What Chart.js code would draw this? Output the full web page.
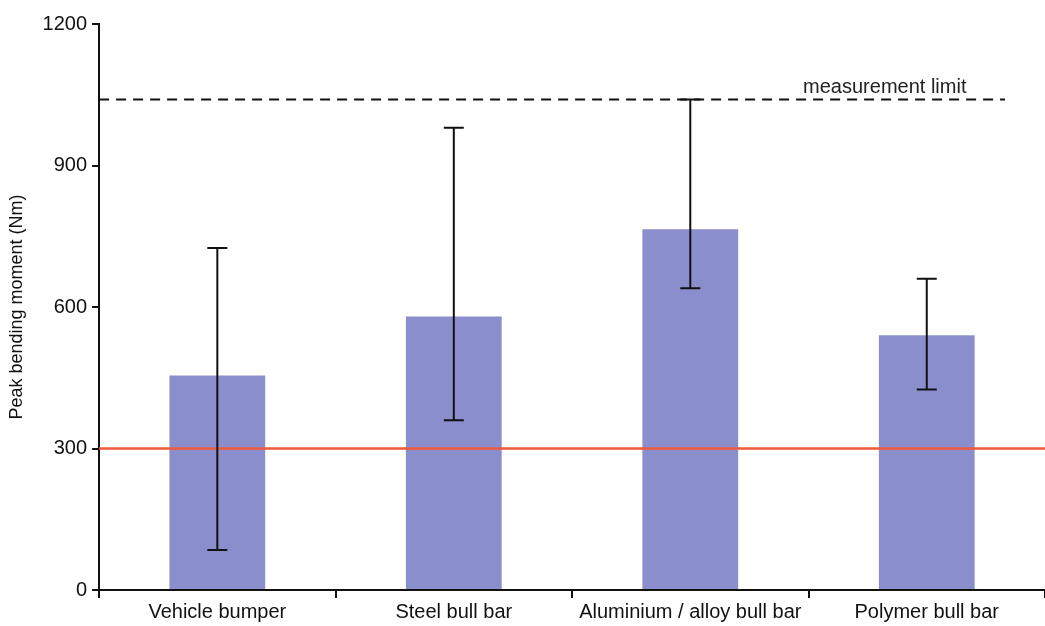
<!DOCTYPE html>
<html>
<head>
<meta charset="utf-8">
<script src="https://cdn.jsdelivr.net/npm/chart.js@4.4.1/dist/chart.umd.min.js"></script>
<style>
html,body{margin:0;padding:0;background:#fff;overflow:hidden;}
#wrap{width:1045px;height:626px;}
</style>
</head>
<body>
<div id="wrap"><canvas id="c" width="1045" height="626"></canvas></div>
<script>
const categories = ["Vehicle bumper", "Steel bull bar", "Aluminium / alloy bull bar", "Polymer bull bar"];
const meanValues = [455, 580, 765, 540];
const upperValues = [725, 980, 1040, 660];
const lowerValues = [85, 360, 640, 425];
const thresholdValue = 300;
const limitValue = 1040;
const limitLabel = "measurement limit";
const yTicks = [0, 300, 600, 900, 1200];
const yTitle = "Peak bending moment (Nm)";

const FONT = "'Liberation Sans', Arial, Helvetica, sans-serif";

const overlay = {
  id: 'overlay',
  afterDatasetsDraw(chart) {
    const {ctx, chartArea, scales} = chart;
    const x = scales.x, y = scales.y;
    ctx.save();
    // threshold red line
    ctx.strokeStyle = '#ee5a3a';
    ctx.lineWidth = 2.5;
    ctx.beginPath();
    const yt = y.getPixelForValue(thresholdValue);
    ctx.moveTo(chartArea.left, yt);
    ctx.lineTo(chartArea.right, yt);
    ctx.stroke();
    // error bars
    ctx.strokeStyle = '#111';
    ctx.lineWidth = 2;
    for (let i = 0; i < categories.length; i++) {
      const cx = x.getPixelForValue(i);
      const yu = y.getPixelForValue(upperValues[i]);
      const yl = y.getPixelForValue(lowerValues[i]);
      ctx.beginPath();
      ctx.moveTo(cx, yu); ctx.lineTo(cx, yl);
      ctx.moveTo(cx - 10, yu); ctx.lineTo(cx + 10, yu);
      ctx.moveTo(cx - 10, yl); ctx.lineTo(cx + 10, yl);
      ctx.stroke();
    }
    // measurement limit dashed line
    const yLim = y.getPixelForValue(limitValue);
    ctx.setLineDash([10, 7]);
    ctx.beginPath();
    ctx.moveTo(chartArea.left, yLim);
    ctx.lineTo(chartArea.right - 40, yLim);
    ctx.stroke();
    ctx.setLineDash([]);
    ctx.fillStyle = '#222';
    ctx.font = "20px " + FONT;
    ctx.textAlign = 'center';
    ctx.textBaseline = 'alphabetic';
    ctx.fillText(limitLabel, x.getPixelForValue(3) - 42, yLim - 6);
    ctx.restore();
  }
};

new Chart(document.getElementById('c'), {
  type: 'bar',
  data: {
    labels: categories,
    datasets: [{
      data: meanValues,
      backgroundColor: '#8b8ecd',
      borderWidth: 0,
      barPercentage: 0.405,
      categoryPercentage: 1.0
    }]
  },
  options: {
    responsive: false,
    animation: false,
    devicePixelRatio: 1,
    layout: {padding: {top: 24, right: 0, left: 6, bottom: 0}},
    plugins: {legend: {display: false}, tooltip: {enabled: false}},
    scales: {
      x: {
        offset: true,
        grid: {display: true, offset: true, drawOnChartArea: false, drawTicks: true, tickLength: 8, color: '#111', lineWidth: 2},
        border: {display: true, color: '#111', width: 2},
        ticks: {font: {family: FONT, size: 20}, color: '#111', padding: 2, maxRotation: 0, autoSkip: false}
      },
      y: {
        min: 0, max: 1200,
        afterBuildTicks(axis) { axis.ticks = yTicks.map(v => ({value: v})); },
        grid: {display: true, drawOnChartArea: false, drawTicks: true, tickLength: 7, color: '#111', lineWidth: 2},
        border: {display: true, color: '#111', width: 2},
        ticks: {font: {family: FONT, size: 20}, color: '#111', padding: 5, callback: v => String(v)},
        title: {display: true, text: yTitle, font: {family: FONT, size: 18}, color: '#111', padding: {top: 0, bottom: 10}}
      }
    }
  },
  plugins: [overlay]
});
</script>
</body>
</html>
